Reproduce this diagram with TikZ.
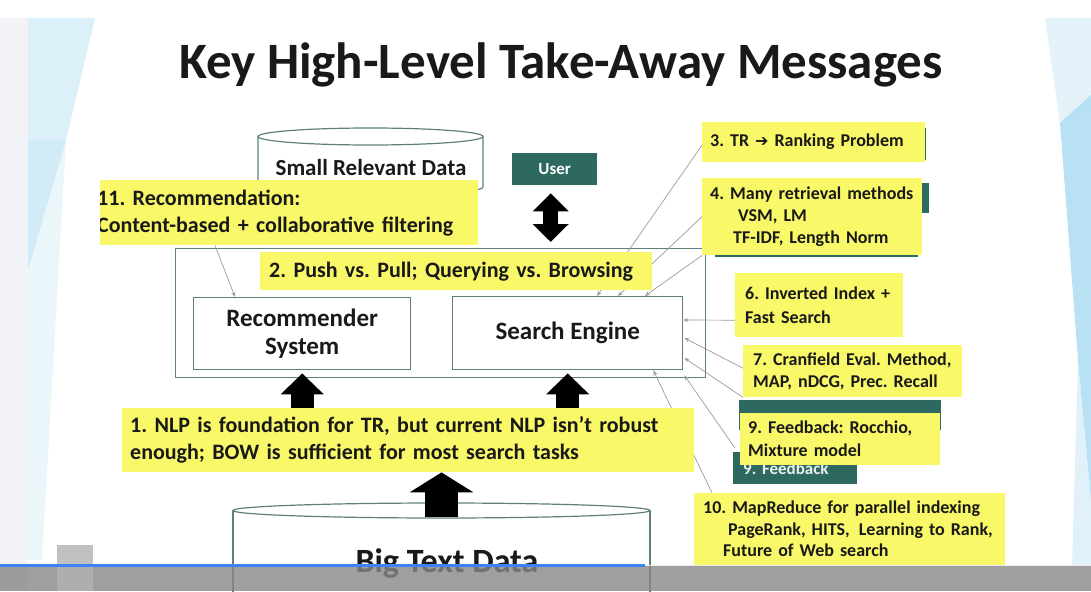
\documentclass[tikz,border=0pt]{standalone}
\usepackage{fontspec}
\setmainfont{Carlito}
\newfontfamily\symfont{DejaVu Sans}
\usetikzlibrary{arrows.meta,calc}
\pgfdeclarelayer{base}
\pgfdeclarelayer{wires}
\pgfsetlayers{base,wires,main}
\frenchspacing
\newcommand\fsz[2]{\fontsize{#1}{#2}\selectfont}
\definecolor{noteyellow}{RGB}{248,248,104}
\definecolor{slateteal}{RGB}{45,105,95}
\definecolor{frameline}{RGB}{95,128,122}
\definecolor{inkblack}{RGB}{25,25,25}
\definecolor{leaderline}{RGB}{155,155,155}
\definecolor{skyblue}{RGB}{178,222,243}
\definecolor{sidegray}{RGB}{241,243,246}
\definecolor{progressblue}{RGB}{60,130,240}
\definecolor{bargray}{RGB}{135,135,135}

\begin{document}
\begin{tikzpicture}[x=1pt,y=-1pt,
  note/.style={fill=noteyellow, anchor=north west, inner xsep=8pt, inner ysep=0pt,
               align=left, text=inkblack, font=\bfseries\fsz{18pt}{22pt}},
  bignote/.style={note, font=\bfseries\fsz{22pt}{27pt}},
  plate/.style={fill=slateteal, anchor=north west, inner sep=0pt},
  panel/.style={draw=frameline, line width=1.4pt, fill=white, anchor=north west,
                inner sep=0pt, align=center, text=inkblack, font=\bfseries\fsz{25pt}{28pt}},
  leader/.style={draw=leaderline, line width=0.7pt, -{Stealth[length=5pt,width=4pt]}},
  fat/.style n args={3}{draw=black, line width=#1, -{Triangle[width=#2,length=#3]}},
  fatboth/.style n args={3}{draw=black, line width=#1,
                {Triangle[width=#2,length=#3]}-{Triangle[width=#2,length=#3]}},
  store/.style={draw=frameline, line width=1.2pt}
]
\useasboundingbox (0,0) rectangle (1091,591);
\clip (0,0) rectangle (1091,591);

% ---------- backdrop ----------
\begin{pgfonlayer}{base}
\fill[white] (0,0) rectangle (1091,591);
\fill[sidegray] (0,18) rectangle (28,591);
\fill[skyblue, opacity=.45] (28,18) -- (95,18) -- (66,140) -- (28,270) -- cycle;
\fill[skyblue, opacity=.25] (28,140) -- (66,140) -- (42,560) -- (28,560) -- cycle;
\fill[skyblue, opacity=.35] (1045,18) -- (1091,18) -- (1091,110) -- (1060,123) -- cycle;
\fill[skyblue, opacity=.9] (1060,123) -- (1091,95) -- (1091,500) -- (1078,360) -- cycle;
\fill[skyblue, opacity=.4] (1078,360) -- (1091,500) -- (1091,566) -- (1072,566) -- cycle;

% small data store
\fill[white] (258,136.5) rectangle (483,187);
\draw[store] (258,136.5) -- (258,187)
  arc[start angle=180, end angle=360, x radius=112.5pt, y radius=8.5pt] -- (483,136.5);
\draw[store, fill=white] (370.5,136.5) ellipse [x radius=112.5pt, y radius=8.5pt];

% big data store
\fill[white] (233,510.5) rectangle (650,600);
\draw[store] (233,510.5) -- (233,600) (650,510.5) -- (650,600);
\draw[store, fill=white] (441.5,510.5) ellipse [x radius=208.5pt, y radius=7.5pt];

% system frame and its two components
\node[draw=frameline, line width=1.4pt, minimum width=530pt, minimum height=129pt,
      anchor=north west, inner sep=0pt] (frame) at (175,248) {};
\node[panel, minimum width=217pt, minimum height=72pt] (rs) at (193,297) {Recommender\\System};
\node[panel, minimum width=230pt, minimum height=73pt] (se) at (452,296) {Search Engine};
\end{pgfonlayer}

% ---------- title and store labels ----------
\node[font=\bfseries\fsz{51pt}{54pt}, text=inkblack, anchor=base] (title) at (561,79)
  {Key High-Level Take-Away Messages};
\node[font=\bfseries\fsz{23pt}{26pt}, text=inkblack, anchor=base] (small) at (371,175)
  {Small Relevant Data};
\node[font=\bfseries\fsz{34pt}{36pt}, text=inkblack, anchor=base] (big) at (447,572)
  {Big Text Data};

\node[plate, minimum width=85pt, minimum height=32pt, text=white,
      font=\bfseries\fsz{17pt}{20pt}] (user) at (512,153) {User};

% ---------- teal slide plates partly hidden by the notes ----------
\node[plate, minimum width=214pt, minimum height=32pt] (p3) at (712,128) {};
\node[plate, minimum width=214pt, minimum height=30pt] (p4) at (715,183) {};
\node[plate, minimum width=203pt, minimum height=3pt] (p4b) at (715,254) {};
\node[plate, minimum width=202pt, minimum height=30pt] (p8) at (739,400) {};
\node[plate, minimum width=124pt, minimum height=32pt, inner xsep=10pt, text width=104pt,
      align=left, text=white!90!slateteal, font=\bfseries\fsz{17pt}{20pt}] (fb) at (733,452) {9. Feedback};

% ---------- notes ----------
\begin{scope}
  \clip (100,180) rectangle (478,245);
  \node[bignote, inner xsep=5pt, minimum width=386pt, minimum height=65pt, text width=376pt] (b11) at (92,180)
    {\mbox{11. Recommendation:}\\\mbox{Content-based + collaborative filtering}};
\end{scope}
\node[bignote, inner xsep=9pt, minimum width=392pt, minimum height=38pt, text width=374pt] (b2) at (260,252)
  {\mbox{2. Push vs. Pull; Querying vs. Browsing}};
\node[bignote, minimum width=572pt, minimum height=64pt, text width=556pt] (b1) at (122,408)
  {\mbox{1. NLP is foundation for TR, but current NLP isn’t robust}\\
   \mbox{enough; BOW is sufficient for most search tasks}};

\node[note, minimum width=223pt, minimum height=40pt, text width=207pt] (b3) at (702,122)
  {\mbox{3. TR {\symfont\fsz{16pt}{22pt}➔} Ranking Problem}};
\node[note, minimum width=220pt, minimum height=77pt, text width=204pt] (b4) at (702,178)
  {\mbox{4. Many retrieval methods}\\\mbox{\hspace*{28pt}VSM, LM}\\\mbox{\hspace*{23pt}TF-IDF, Length Norm}};
\node[note, inner xsep=10pt, minimum width=168pt, minimum height=64pt, text width=148pt,
      font=\bfseries\fsz{18pt}{24pt}] (b6) at (735,273)
  {\mbox{6. Inverted Index +}\\\mbox{Fast Search}};
\node[note, inner xsep=10pt, minimum width=219pt, minimum height=52pt, text width=199pt] (b7) at (743,345)
  {\mbox{7. Cranfield Eval. Method,}\\\mbox{MAP, nDCG, Prec. Recall}};
\node[note, minimum width=200pt, minimum height=52pt, text width=184pt,
      font=\bfseries\fsz{18pt}{23pt}] (b9) at (740,413)
  {\mbox{9. Feedback: Rocchio,}\\\mbox{Mixture model}};
\node[note, inner xsep=9pt, minimum width=311pt, minimum height=72pt, text width=293pt,
      font=\bfseries\fsz{18pt}{21.5pt}] (b10) at (694,493)
  {\mbox{10. MapReduce for parallel indexing}\\
   \mbox{\hspace*{25pt}PageRank, HITS,\enspace Learning to Rank,}\\
   \mbox{\hspace*{20pt}Future of Web search}};

% ---------- thin leaders from the notes ----------
\begin{pgfonlayer}{wires}
\draw[leader] ($(b3.west)+(0,3)$) -- ($(se.north west)+(145,0)$);
\draw[leader] (b4.west) -- ($(se.north west)+(166,0)$);
\draw[leader] (b4.south west) -- ($(se.north west)+(193,0)$);
\draw[leader] ($(b6.west)+(0,15)$) -- ($(se.north east)+(0,24)$);
\draw[leader] ($(b7.west)+(0,-3)$) -- ($(se.north east)+(1,42)$);
\draw[leader] (b7.south west) -- ($(se.north east)+(1,62)$);
\draw[leader] ($(fb.north west)+(2,-4)$) -- ($(se.south east)+(1,5)$);
\draw[leader] ($(b10.north west)+(18,0)$) -- ($(se.south east)+(-30,0)$);
\draw[leader] ($(b11.south west)+(123,0)$) -- ($(rs.north west)+(42,0)$);
\end{pgfonlayer}

% ---------- block arrows ----------
\draw[fat={23pt}{42pt}{21pt}] (rs.south |- b1.north) -- ($(rs.south)+(0,3)$);
\draw[fat={23pt}{42pt}{21pt}] (se.south |- b1.north) -- ($(se.south)+(0,3)$);
\coordinate (bigtop) at (441.5,517);
\draw[fat={33pt}{63pt}{20pt}] (bigtop) -- (bigtop |- b1.south);
\draw[fatboth={15pt}{35pt}{18pt}] ($(user.south)+(-4,8)$) -- ($(user.south |- frame.north)+(-4,-6)$);

% ---------- player bar across the bottom ----------
\fill[bargray, fill opacity=.8] (0,566) rectangle (1091,591);
\fill[gray!60, fill opacity=.8] (57,545) rectangle (93,591);
\draw[white!85!gray, line width=1.5pt] (645,565.5) -- (1091,565.5);
\draw[progressblue, line width=2.5pt] (0,565.5) -- (645,565.5);
\end{tikzpicture}
\end{document}
